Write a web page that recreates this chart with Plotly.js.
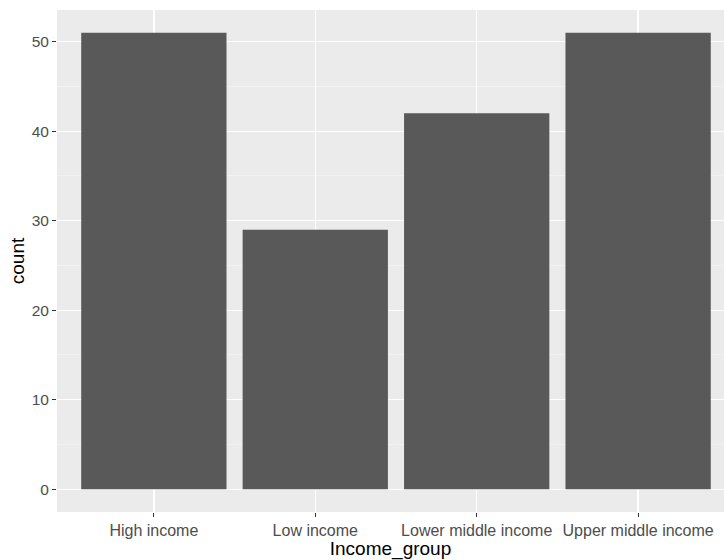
<!DOCTYPE html>
<html>
<head>
<meta charset="utf-8">
<script src="https://cdn.plot.ly/plotly-3.0.1.min.js"></script>
<style>html,body{margin:0;padding:0;overflow:hidden;background:#fff}</style>
</head>
<body>
<div id="chart" style="width:724px;height:560px"></div>
<script>
const categories = ["High income", "Low income", "Lower middle income", "Upper middle income"];
const counts = [51, 29, 42, 51];
const yTicks = [0, 10, 20, 30, 40, 50];

const trace = {
  type: "bar",
  x: categories,
  y: counts,
  width: 0.9,
  marker: {color: "#595959", line: {width: 0}},
  hoverinfo: "x+y"
};

const layout = {
  width: 724, height: 560,
  margin: {l: 57, r: 0, t: 10, b: 48, pad: 0},
  paper_bgcolor: "#ffffff",
  plot_bgcolor: "#EBEBEB",
  showlegend: false,
  font: {family: "Liberation Sans, Arial, sans-serif", size: 16, color: "#4D4D4D"},
  xaxis: {
    type: "category",
    range: [-0.6, 3.532],
    showgrid: true, gridcolor: "#FFFFFF", gridwidth: 1.3,
    zeroline: false, showline: false,
    ticks: "outside", ticklen: 4, tickwidth: 1, tickcolor: "#333333",
    tickfont: {size: 16, color: "#4D4D4D"},
    title: {text: "Income_group", font: {size: 19, color: "#000000"}, standoff: 7}
  },
  yaxis: {
    range: [-2.55, 53.55],
    tickvals: yTicks,
    ticktext: yTicks.map(String),
    showgrid: true, gridcolor: "#FFFFFF", gridwidth: 1.3,
    minor: {dtick: 5, tick0: 5, showgrid: true, gridcolor: "#F7F7F7", gridwidth: 0.6, ticks: ""},
    zeroline: false, showline: false,
    ticks: "outside", ticklen: 4, tickwidth: 1, tickcolor: "#333333",
    tickfont: {size: 15.5, color: "#4D4D4D"},
    title: {text: "count", font: {size: 19, color: "#000000"}, standoff: 2}
  },
  bargap: 0.1
};

Plotly.newPlot("chart", [trace], layout, {displayModeBar: false, staticPlot: true});
</script>
</body>
</html>
